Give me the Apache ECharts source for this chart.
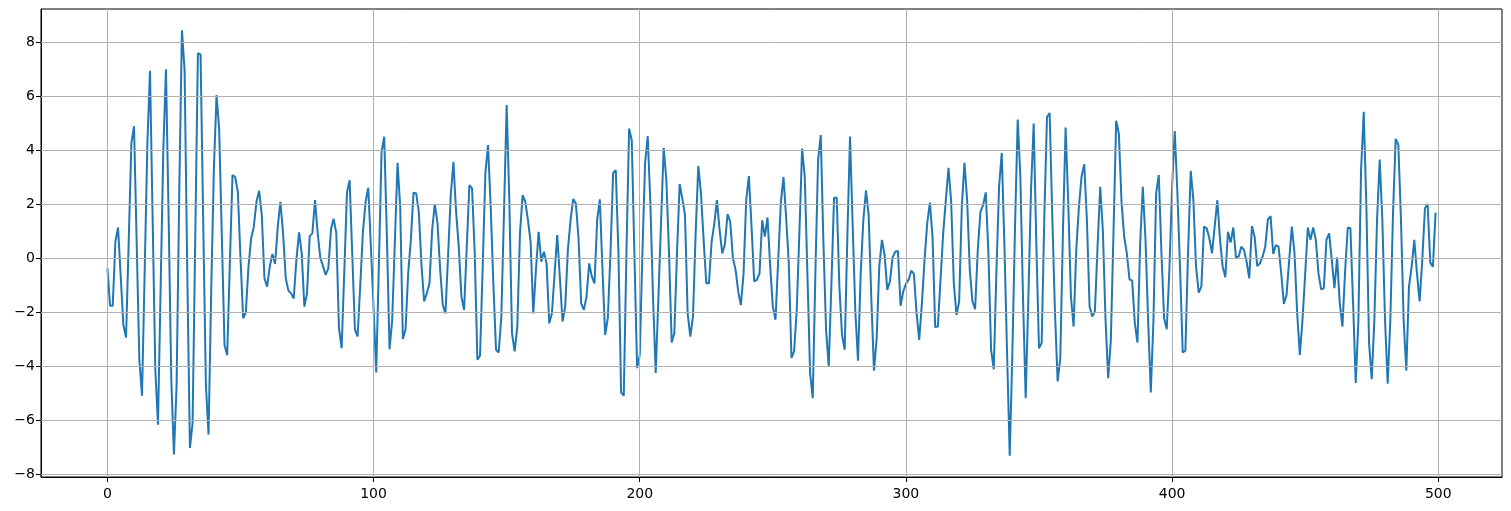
<!DOCTYPE html>
<html>
<head>
<meta charset="utf-8">
<script src="https://cdn.jsdelivr.net/npm/echarts@6/dist/echarts.min.js"></script>
<style>html,body{margin:0;padding:0;background:#fff}#c{width:1511px;height:511px}</style>
</head>
<body>
<div id="c"></div>
<script>
const values = [
-0.38,-1.77,-1.77,0.60,1.13,-0.68,-2.48,-2.95,0.6,4.24,
4.88,0.55,-3.77,-5.10,-0.5,4.18,6.93,1.4,-4.14,-6.17,
-1.1,3.99,6.99,1.5,-4.5,-7.28,-4.7,2.5,8.43,6.95,
-0.5,-7.04,-6.11,0.7,7.59,7.53,1.3,-4.7,-6.54,-1.2,
3.3,6.03,4.73,0.75,-3.22,-3.6,-0.2,3.07,3.0,2.45,
0.0,-2.23,-2.02,-0.32,0.73,1.16,2.08,2.49,1.59,-0.75,
-1.06,-0.32,0.15,-0.22,1.16,2.08,0.91,-0.75,-1.21,-1.31,
-1.5,-0.07,0.95,0.17,-1.8,-1.31,0.81,0.91,2.14,0.91,
-0.01,-0.3,-0.63,-0.38,1.06,1.45,0.91,-2.6,-3.34,-0.5,
2.42,2.88,0.1,-2.66,-2.91,-1.0,0.97,2.08,2.6,0.4,
-1.86,-4.24,-0.2,3.93,4.49,0.8,-3.38,-2.29,0.6,3.52,
1.9,-3.0,-2.66,-0.57,0.67,2.42,2.39,1.71,-0.26,-1.61,
-1.31,-0.94,1.04,2.0,1.3,-0.4,-1.74,-2.05,0.1,2.33,
3.56,1.71,0.42,-1.43,-1.92,0.4,2.7,2.58,0.17,-3.77,
-3.62,-0.3,3.13,4.18,1.9,-0.94,-3.4,-3.5,-2.17,1.7,
5.66,2.14,-2.78,-3.46,-2.54,0.91,2.33,2.08,1.4,0.6,
-2.05,-0.44,0.97,-0.14,0.23,-0.2,-2.42,-2.05,-0.6,0.85,
-0.75,-2.35,-1.8,0.3,1.4,2.18,2.02,0.73,-1.68,-1.92,
-1.43,-0.2,-0.69,-0.94,1.4,2.17,-0.44,-2.85,-2.23,0.17,
3.15,3.25,0.17,-4.98,-5.1,0.2,4.79,4.36,0.1,-4.08,
-3.59,0.2,3.5,4.51,2.0,-1.5,-4.26,-1.5,1.3,4.08,
2.88,0.17,-3.13,-2.78,0.2,2.74,2.2,1.59,-2.05,-2.91,
-2.17,0.91,3.41,2.39,0.67,-0.94,-0.94,0.6,1.26,2.14,
1.04,0.17,0.52,1.63,1.34,0.0,-0.44,-1.24,-1.74,-0.57,
2.14,3.03,1.16,-0.87,-0.81,-0.57,1.4,0.79,1.5,-0.3,
-1.8,-2.29,-0.1,2.02,3.0,1.5,-0.2,-3.7,-3.45,-1.9,
1.0,4.05,3.0,-0.6,-4.26,-5.19,-0.5,3.62,4.55,0.6,
-2.66,-4.02,-1.0,2.23,2.23,-1.06,-2.85,-3.4,0.8,4.5,
1.2,-2.0,-3.8,-0.6,1.4,2.5,1.6,-1.5,-4.17,-3.0,
-0.3,0.67,0.1,-1.18,-0.87,0.02,0.23,0.26,-1.77,-1.24,
-0.96,-0.81,-0.47,-0.59,-2.05,-3.03,-1.68,-0.07,1.28,2.05,
0.79,-2.56,-2.54,-0.81,0.91,2.14,3.34,2.08,-0.94,-2.11,
-1.61,1.9,3.52,2.14,-0.44,-1.61,-1.9,0.3,1.71,1.96,
2.43,0.17,-3.4,-4.12,-0.5,2.64,3.89,0.5,-3.5,-7.32,
-3.5,1.2,5.13,3.0,-1.5,-5.19,-1.5,2.5,4.98,0.5,
-3.34,-3.15,1.5,5.22,5.37,1.5,-2.0,-4.57,-3.71,1.0,
4.83,2.0,-1.43,-2.54,0.3,1.9,3.03,3.47,1.4,-1.8,
-2.17,-1.98,0.42,2.64,1.0,-2.3,-4.45,-3.03,1.0,5.08,
4.61,2.08,0.79,0.17,-0.79,-0.84,-2.42,-3.13,0.5,2.64,
0.7,-2.3,-4.98,-2.3,2.39,3.07,0.2,-2.23,-2.64,-0.4,
2.6,4.7,2.4,-0.4,-3.5,-3.43,0.2,3.23,2.14,-0.32,
-1.28,-1.06,1.16,1.1,0.73,0.17,1.16,2.14,0.7,-0.32,
-0.71,0.97,0.57,1.13,0.02,0.05,0.42,0.3,-0.14,-0.75,
1.18,0.79,-0.3,-0.2,0.05,0.42,1.43,1.55,0.15,0.48,
0.42,-0.57,-1.7,-1.37,-0.07,1.16,0.17,-2.05,-3.59,-2.29,
-0.6,1.13,0.67,1.13,0.67,-0.57,-1.16,-1.12,0.67,0.91,
-0.07,-1.12,0.02,-1.68,-2.54,-0.5,1.13,1.1,-1.68,-4.63,
-2.3,3.25,5.41,1.9,-3.15,-4.49,-2.3,1.4,3.65,1.4,
-2.3,-4.66,-2.3,1.65,4.41,4.2,1.4,-2.3,-4.17,-1.06,
-0.32,0.67,-0.57,-1.61,-0.07,1.84,2.0,-0.17,-0.32,1.68
];
const xTicks = [0, 100, 200, 300, 400, 500];
const yTicks = [-8, -6, -4, -2, 0, 2, 4, 6, 8];
const xRange = [-24.95, 523.95];
const yRange = [-8.11, 9.22];

const seriesData = values.map((v, i) => [i, v]);
const fmt = v => String(v).replace('-', '\u2212');
const gridStyle = { color: '#b0b0b0', width: 1, type: 'solid' };
const chart = echarts.init(document.getElementById('c'), null, { renderer: 'canvas' });
chart.setOption({
  animation: false,
  backgroundColor: '#fff',
  grid: { left: 41, right: 9, top: 9, bottom: 34, show: true, borderColor: '#000', borderWidth: 1, backgroundColor: 'transparent' },
  xAxis: {
    type: 'value', min: xRange[0], max: xRange[1],
    axisLine: { show: true, onZero: false, lineStyle: { color: '#000', width: 1 } },
    axisTick: { show: true, customValues: xTicks, length: 5, lineStyle: { color: '#000' } },
    axisLabel: { customValues: xTicks, formatter: fmt, color: '#000', fontSize: 14, fontFamily: 'DejaVu Sans', margin: 10 },
    splitLine: { show: false }
  },
  yAxis: {
    type: 'value', min: yRange[0], max: yRange[1],
    axisLine: { show: true, onZero: false, lineStyle: { color: '#000', width: 1 } },
    axisTick: { show: true, customValues: yTicks, length: 5, lineStyle: { color: '#000' } },
    axisLabel: { customValues: yTicks, formatter: fmt, color: '#000', fontSize: 14, fontFamily: 'DejaVu Sans', margin: 6 },
    splitLine: { show: false }
  },
  series: [
    {
      type: 'line', data: [], z: 1, silent: true,
      markLine: {
        silent: true, symbol: 'none', animation: false,
        label: { show: false }, lineStyle: gridStyle,
        data: xTicks.map(v => ({ xAxis: v })).concat(yTicks.map(v => ({ yAxis: v })))
      }
    },
    {
      type: 'line', data: seriesData, z: 3, showSymbol: false, symbol: 'none',
      lineStyle: { color: '#1f77b4', width: 2 }, itemStyle: { color: '#1f77b4' }
    }
  ]
});
</script>
</body>
</html>
